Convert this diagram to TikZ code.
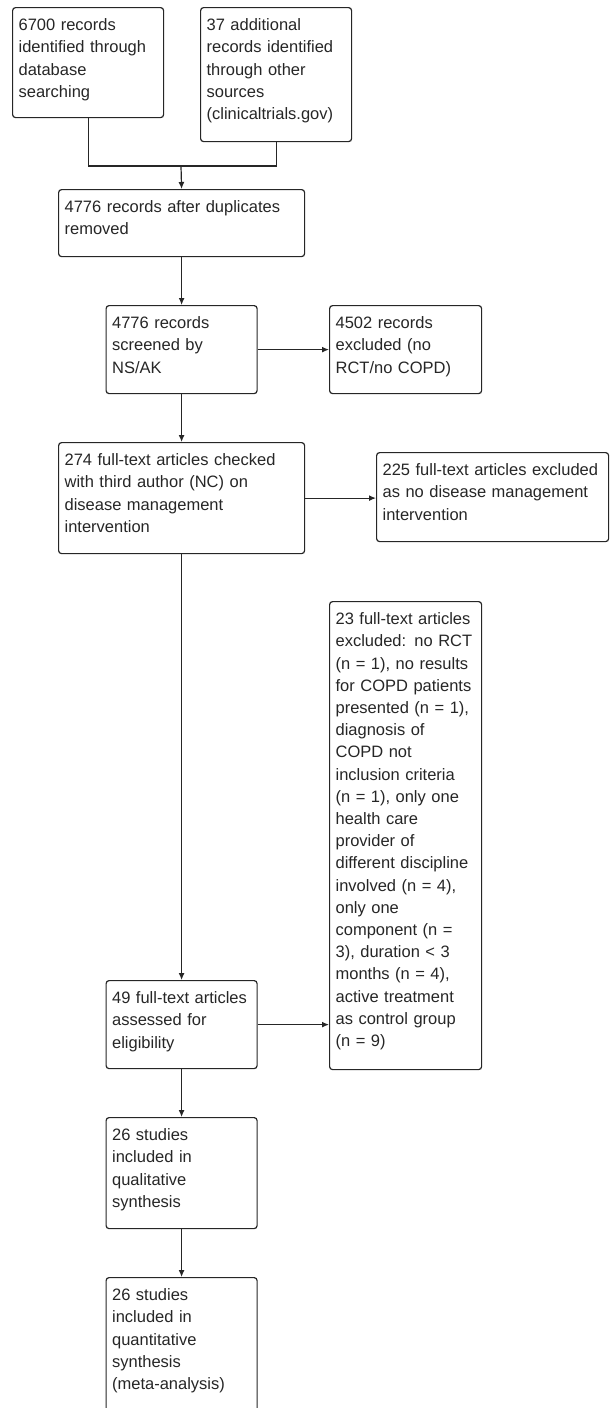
\documentclass[tikz,border=0pt]{standalone}
\usepackage{fontspec}
\setmainfont{Liberation Sans}
\usetikzlibrary{arrows.meta}

\begin{document}
\begin{tikzpicture}[x=1pt,y=-1pt,>={Latex[length=7pt,width=6pt]},
      line width=1.2pt,color=black!85,
      box/.style={draw,rounded corners=3pt,anchor=north west,align=left,
        inner xsep=6pt,inner ysep=0pt,text height=23pt,
        font=\fontsize{16.5}{22.2}\selectfont}]

    \clip (0,0) rectangle (610,1408);

    \node[box,text width=139pt,text depth=87pt] (db) at (12,7)
      {6700 records\\identified through\\database\\searching};
    \node[box,text width=139pt,text depth=111pt] (other) at (200,7)
      {37 additional\\records identified\\through other\\sources\\(clinicaltrials.gov)};
    \node[box,text width=234pt,text depth=44pt] (dupl) at (58,189)
      {4776 records after duplicates\\removed};
    \node[box,text width=139pt,text depth=65pt] (screen) at (105.5,305)
      {4776 records\\screened by\\NS/AK};
    \node[box,text width=140pt,text depth=65pt] (excl) at (329,305)
      {4502 records\\excluded (no\\RCT/no COPD)};
    \node[box,text width=234pt,text depth=88pt] (check) at (58,442)
      {274 full-text articles checked\\with third author (NC) on\\disease management\\intervention};
    \node[box,text width=220pt,text depth=66pt] (nodm) at (376,452)
      {225 full-text articles excluded\\as no disease management\\intervention};
    \node[box,text width=140pt,text depth=445pt] (reasons) at (329,601)
      {23 full-text articles\\excluded: no RCT\\(n = 1), no results\\for COPD patients\\presented (n = 1),\\diagnosis of\\COPD not\\inclusion criteria\\(n = 1), only one\\health care\\provider of\\different discipline\\involved (n = 4),\\only one\\component (n =\\3), duration < 3\\months (n = 4),\\active treatment\\as control group\\(n = 9)};
    \node[box,text width=139pt,text depth=65pt] (elig) at (105.5,980)
      {49 full-text articles\\assessed for\\eligibility};
    \node[box,text width=139pt,text depth=88pt] (qual) at (105.5,1117)
      {26 studies\\included in\\qualitative\\synthesis};
    \node[box,text width=139pt,text depth=117pt] (quant) at (105.5,1277)
      {26 studies\\included in\\quantitative\\synthesis\\(meta-analysis)};

    % merge of the two sources
    \coordinate (merge) at (181,166);
    \draw (db) |- (merge) -| (other);
    \draw[->] (merge) -- (dupl.north);

    \draw[->] (dupl.south) -- (screen.north);
    \draw[->] (screen.east) -- (excl.west);
    \draw[->] (screen.south) -- (check.north);
    \draw[->] (check.east) -- (check.east -| nodm.west);
    \draw[->] (check.south) -- (elig.north);
    \draw[->] (elig.east) -- (elig.east -| reasons.west);
    \draw[->] (elig.south) -- (qual.north);
    \draw[->] (qual.south) -- (quant.north);

\end{tikzpicture}
\end{document}
